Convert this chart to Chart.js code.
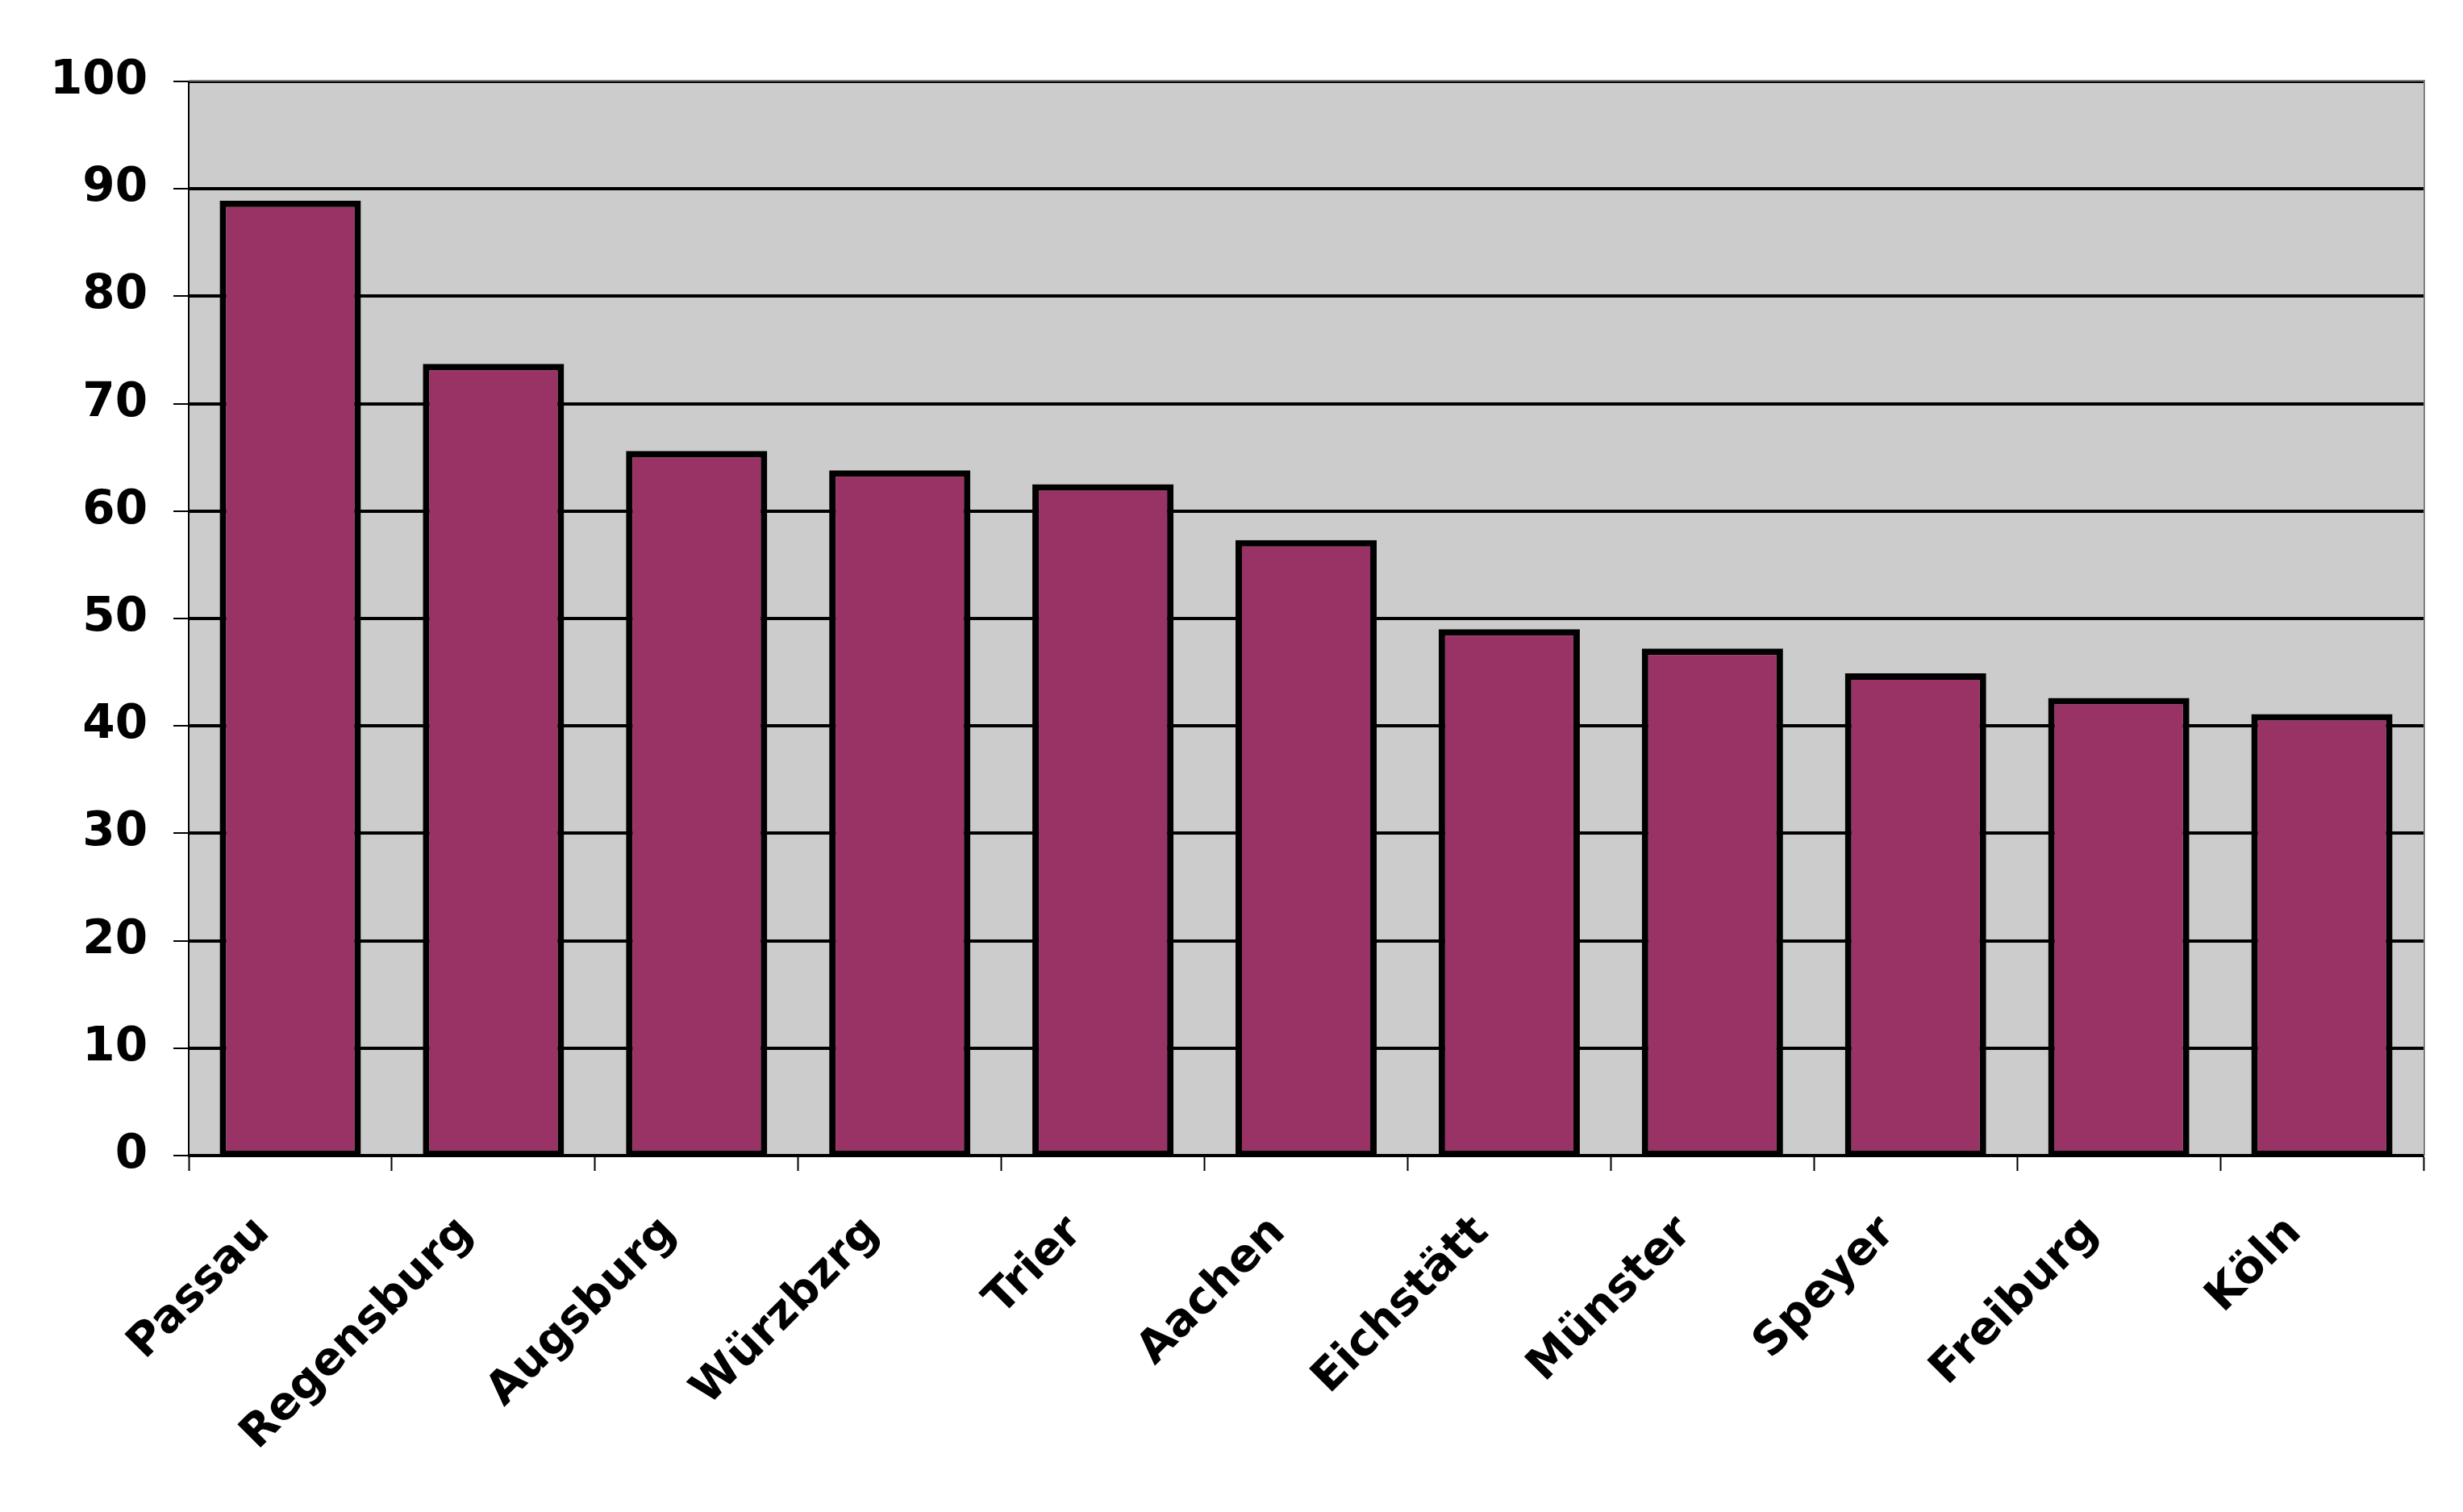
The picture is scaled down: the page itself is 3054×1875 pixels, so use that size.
<!DOCTYPE html>
<html>
<head>
<meta charset="utf-8">
<script src="https://cdn.jsdelivr.net/npm/chart.js@4.4.1/dist/chart.umd.min.js"></script>
<style>
  html, body { margin: 0; padding: 0; background: #fff; }
  canvas { display: block; }
</style>
</head>
<body>
<canvas id="myChart" width="3054" height="1875"></canvas>
<script>
const cities = ['Passau', 'Regensburg', 'Augsburg', 'Würzbzrg', 'Trier', 'Aachen',
  'Eichstätt', 'Münster', 'Speyer', 'Freiburg', 'Köln'];
const values = [88.9, 73.7, 65.6, 63.8, 62.5, 57.3, 49.0, 47.2, 44.9, 42.6, 41.1];
const yTicks = [0, 10, 20, 30, 40, 50, 60, 70, 80, 90, 100];

// grey plot background + thin grey frame like the original
const plotBackground = {
  id: 'plotBackground',
  beforeDraw(chart) {
    const { ctx, chartArea: a } = chart;
    ctx.save();
    ctx.fillStyle = '#cccccc';
    ctx.fillRect(a.left, a.top, a.right - a.left, a.bottom - a.top);
    ctx.restore();
  },
  beforeDatasetsDraw(chart) {
    const { ctx, chartArea: a } = chart;
    ctx.save();
    ctx.strokeStyle = '#808080';
    ctx.lineWidth = 2;
    ctx.beginPath();
    ctx.moveTo(a.left, a.top - 1);
    ctx.lineTo(a.right + 1, a.top - 1);
    ctx.lineTo(a.right + 1, a.bottom);
    ctx.stroke();
    ctx.restore();
  }
};

const yFont = { family: 'DejaVu Sans', weight: 'bold', size: 58 };
const xFont = { family: 'DejaVu Sans', weight: 'bold', size: 56 };

new Chart(document.getElementById('myChart'), {
  type: 'bar',
  data: {
    labels: cities,
    datasets: [{
      data: values,
      backgroundColor: '#993366',
      borderColor: '#000000',
      borderWidth: { top: 8, left: 8, right: 8, bottom: 4 },
      borderSkipped: false,
      categoryPercentage: 1,
      barPercentage: 0.695
    }]
  },
  options: {
    responsive: false,
    animation: false,
    layout: { padding: { top: 101, right: 49, left: 0, bottom: 0 } },
    plugins: { legend: { display: false }, tooltip: { enabled: false } },
    scales: {
      x: {
        grid: {
          offset: true,
          drawOnChartArea: false,
          tickLength: 19,
          tickWidth: 2,
          tickColor: '#000'
        },
        border: { color: '#000', width: 3 },
        ticks: {
          autoSkip: false,
          maxRotation: 45,
          minRotation: 45,
          padding: 44,
          labelOffset: -34,
          color: '#000',
          font: xFont
        },
        afterFit(scale) { scale.height = 442; }
      },
      y: {
        min: 0,
        max: 100,
        afterBuildTicks(scale) { scale.ticks = yTicks.map(v => ({ value: v })); },
        grid: {
          color: '#000',
          lineWidth: 4,
          tickLength: 19,
          tickWidth: 2,
          tickColor: '#000'
        },
        border: { color: '#000', width: 2 },
        ticks: {
          padding: 32,
          color: '#000',
          font: yFont
        },
        afterFit(scale) { scale.width = 234; }
      }
    }
  },
  plugins: [plotBackground]
});
</script>
</body>
</html>
